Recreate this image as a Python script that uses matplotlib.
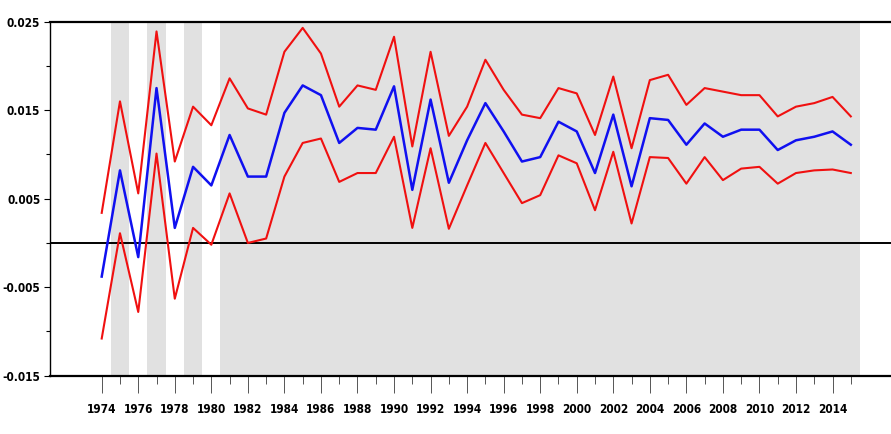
import numpy as np
import matplotlib
matplotlib.use("Agg")
import matplotlib.pyplot as plt
from matplotlib import font_manager as fm
from matplotlib.ticker import FixedLocator, FixedFormatter

# ===========================
# Data
# ===========================

years = list(range(1974, 2016))

upper = [0.0034, 0.0160, 0.0056, 0.0239, 0.0092, 0.0154, 0.0133, 0.0186, 0.0152, 0.0145,
         0.0216, 0.0243, 0.0214, 0.0154, 0.0178, 0.0173, 0.0233, 0.0109, 0.0216, 0.0121,
         0.0154, 0.0207, 0.0173, 0.0145, 0.0141, 0.0175, 0.0169, 0.0122, 0.0188, 0.0107,
         0.0184, 0.0190, 0.0156, 0.0175, 0.0171, 0.0167, 0.0167, 0.0143, 0.0154, 0.0158,
         0.0165, 0.0143]

middle = [-0.0038, 0.0082, -0.0016, 0.0175, 0.0017, 0.0086, 0.0065, 0.0122, 0.0075, 0.0075,
          0.0147, 0.0178, 0.0167, 0.0113, 0.0130, 0.0128, 0.0177, 0.0060, 0.0162, 0.0068,
          0.0116, 0.0158, 0.0126, 0.0092, 0.0097, 0.0137, 0.0126, 0.0079, 0.0145, 0.0064,
          0.0141, 0.0139, 0.0111, 0.0135, 0.0120, 0.0128, 0.0128, 0.0105, 0.0116, 0.0120,
          0.0126, 0.0111]

lower = [-0.0108, 0.0011, -0.0078, 0.0101, -0.0063, 0.0017, -0.0002, 0.0056, 0.0000, 0.0005,
         0.0075, 0.0113, 0.0118, 0.0069, 0.0079, 0.0079, 0.0120, 0.0017, 0.0107, 0.0016,
         0.0065, 0.0113, 0.0079, 0.0045, 0.0054, 0.0099, 0.0090, 0.0037, 0.0103, 0.0022,
         0.0097, 0.0096, 0.0067, 0.0097, 0.0071, 0.0084, 0.0086, 0.0067, 0.0079, 0.0082,
         0.0083, 0.0079]

# shaded periods (start, end)
shade_start = [1974.5, 1976.5, 1978.5, 1980.5]
shade_end = [1975.5, 1977.5, 1979.5, 2015.5]

y_ticks = [0.025, 0.015, 0.005, -0.005, -0.015]
y_tick_labels = ["0.025", "0.015", "0.005", "-0.005", "-0.015"]
y_minor = [0.02, 0.01, 0.0, -0.01]
x_major = list(range(1974, 2015, 2))
x_minor = list(range(1975, 2016, 2))


def pick_font():
    """Narrow bold font for tick labels, whatever is installed."""
    files = [f.fname for f in fm.fontManager.ttflist]
    prefs = [("LiberationSansNarrow-Bold", 10),
             ("DejaVuSansCondensed-Bold", 8.5),
             ("LiberationSans-Bold", 8.5)]
    for key, size in prefs:
        for fn in files:
            if fn.endswith(key + ".ttf"):
                return fm.FontProperties(fname=fn, size=size)
    return fm.FontProperties(family="DejaVu Sans", weight="bold", size=7.5)


# ===========================
# Drawing
# ===========================

fig = plt.figure(figsize=(8.91, 4.34), dpi=100)
ax = fig.add_axes([50 / 891, 58.3 / 434, 1 - 50 / 891, 354 / 434])

for s, e in zip(shade_start, shade_end):
    ax.axvspan(s, e, color="#e1e1e1", lw=0, zorder=0)

ax.axhline(0, color="black", linewidth=1.4, zorder=1)

ax.plot(years, upper, color="#f01010", linewidth=1.5, zorder=3)
ax.plot(years, middle, color="#1010f0", linewidth=1.8, zorder=3)
ax.plot(years, lower, color="#f01010", linewidth=1.5, zorder=3)

ax.set_xlim(1971.17, 2017.2)
ax.set_ylim(-0.015, 0.025)

ax.spines["right"].set_visible(False)
for side in ["top", "bottom"]:
    ax.spines[side].set_linewidth(1.6)
ax.spines["left"].set_linewidth(1.0)

ax.yaxis.set_major_locator(FixedLocator(y_ticks))
ax.yaxis.set_major_formatter(FixedFormatter(y_tick_labels))
ax.yaxis.set_minor_locator(FixedLocator(y_minor))
ax.xaxis.set_major_locator(FixedLocator(x_major))
ax.xaxis.set_major_formatter(FixedFormatter([str(y) for y in x_major]))
ax.xaxis.set_minor_locator(FixedLocator(x_minor))

ax.tick_params(axis="y", which="major", length=4, width=0.8, pad=3)
ax.tick_params(axis="y", which="minor", length=3, width=0.8)
ax.tick_params(axis="x", which="major", length=12, width=0.7, color="#555555", pad=8)
ax.tick_params(axis="x", which="minor", length=6, width=0.7, color="#555555")

fp = pick_font()
for lab in ax.get_xticklabels() + ax.get_yticklabels():
    lab.set_fontproperties(fp)

fig.savefig("out.png", dpi=100)
